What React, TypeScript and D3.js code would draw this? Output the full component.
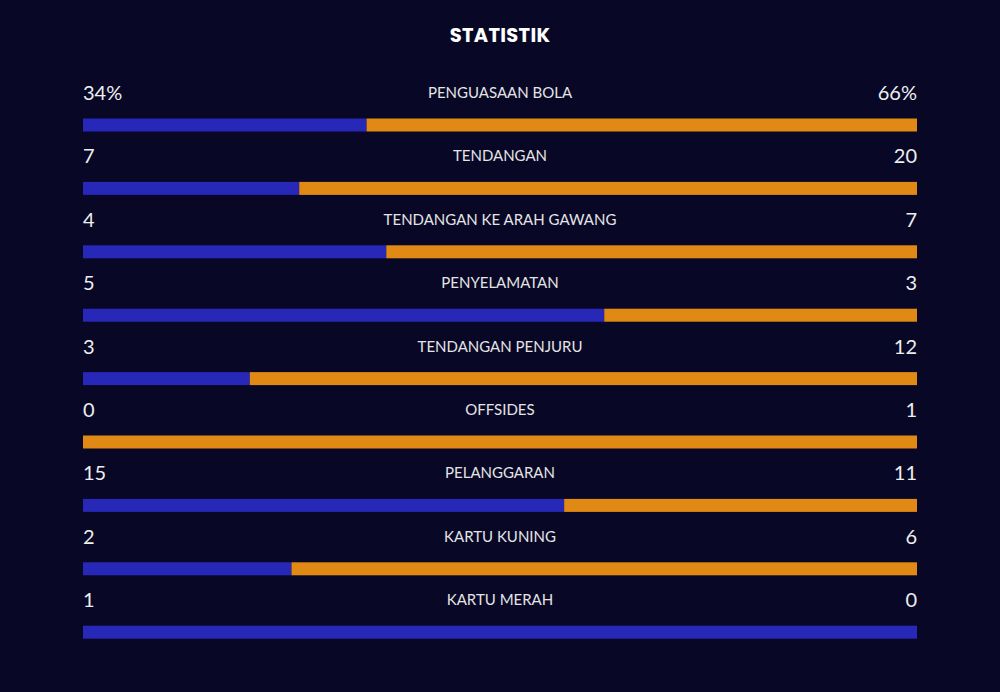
import React, { useEffect, useRef } from "react";
import * as d3 from "d3";

const categories = [
  "PENGUASAAN BOLA",
  "TENDANGAN",
  "TENDANGAN KE ARAH GAWANG",
  "PENYELAMATAN",
  "TENDANGAN PENJURU",
  "OFFSIDES",
  "PELANGGARAN",
  "KARTU KUNING",
  "KARTU MERAH",
];
const homeValues = [34, 7, 4, 5, 3, 0, 15, 2, 1];
const awayValues = [66, 20, 7, 3, 12, 1, 11, 6, 0];
const homeLabels = ["34%", "7", "4", "5", "3", "0", "15", "2", "1"];
const awayLabels = ["66%", "20", "7", "3", "12", "1", "11", "6", "0"];

const W = 1000;
const H = 692;
const BG = "#080726";
const BLUE = "#2727b8";
const ORANGE = "#e08914";

export default function App() {
  const ref = useRef<SVGSVGElement | null>(null);

  useEffect(() => {
    const svg = d3.select(ref.current);
    svg.selectAll("*").remove();
    svg.append("rect").attr("width", W).attr("height", H).attr("fill", BG);

    svg
      .append("text")
      .attr("x", W / 2)
      .attr("y", 42)
      .attr("text-anchor", "middle")
      .attr("fill", "#ffffff")
      .attr("font-family", "Poppins, 'Open Sans', sans-serif")
      .attr("font-weight", 700)
      .attr("font-size", 19.5)
      .attr("letter-spacing", 0.3)
      .text("STATISTIK");

    const left = 83;
    const right = 917;
    const y = d3
      .scaleBand<number>()
      .domain(d3.range(categories.length))
      .range([68, 68 + 63.4 * categories.length])
      .paddingInner(0)
      .paddingOuter(0);

    const rows = svg
      .selectAll("g.row")
      .data(categories.map((c, i) => ({ c, i })))
      .enter()
      .append("g")
      .attr("class", "row")
      .attr("transform", (d) => `translate(0,${y(d.i)})`);

    rows.each(function (d) {
      const g = d3.select(this);
      const total = homeValues[d.i] + awayValues[d.i];
      const x = d3.scaleLinear().domain([0, total || 1]).range([left, right]);
      const split = x(homeValues[d.i]);

      g.append("text")
        .attr("x", left)
        .attr("y", 32)
        .attr("fill", "#eeeeee")
        .attr("font-family", "Lato, sans-serif")
        .attr("font-size", 20)
        .text(homeLabels[d.i]);
      g.append("text")
        .attr("x", right)
        .attr("y", 32)
        .attr("text-anchor", "end")
        .attr("fill", "#eeeeee")
        .attr("font-family", "Lato, sans-serif")
        .attr("font-size", 20)
        .text(awayLabels[d.i]);
      g.append("text")
        .attr("x", W / 2)
        .attr("y", 30)
        .attr("text-anchor", "middle")
        .attr("fill", "#e4e4e4")
        .attr("font-family", "Lato, sans-serif")
        .attr("font-size", 15)
        .text(d.c);

      g.append("rect")
        .attr("x", left)
        .attr("y", 50.5)
        .attr("width", split - left)
        .attr("height", 13)
        .attr("fill", BLUE);
      g.append("rect")
        .attr("x", split)
        .attr("y", 50.5)
        .attr("width", right - split)
        .attr("height", 13)
        .attr("fill", ORANGE);
    });
  }, []);

  return (
    <svg
      ref={ref}
      width={W}
      height={H}
      style={{ position: "absolute", left: 0, top: 0, display: "block" }}
    />
  );
}
